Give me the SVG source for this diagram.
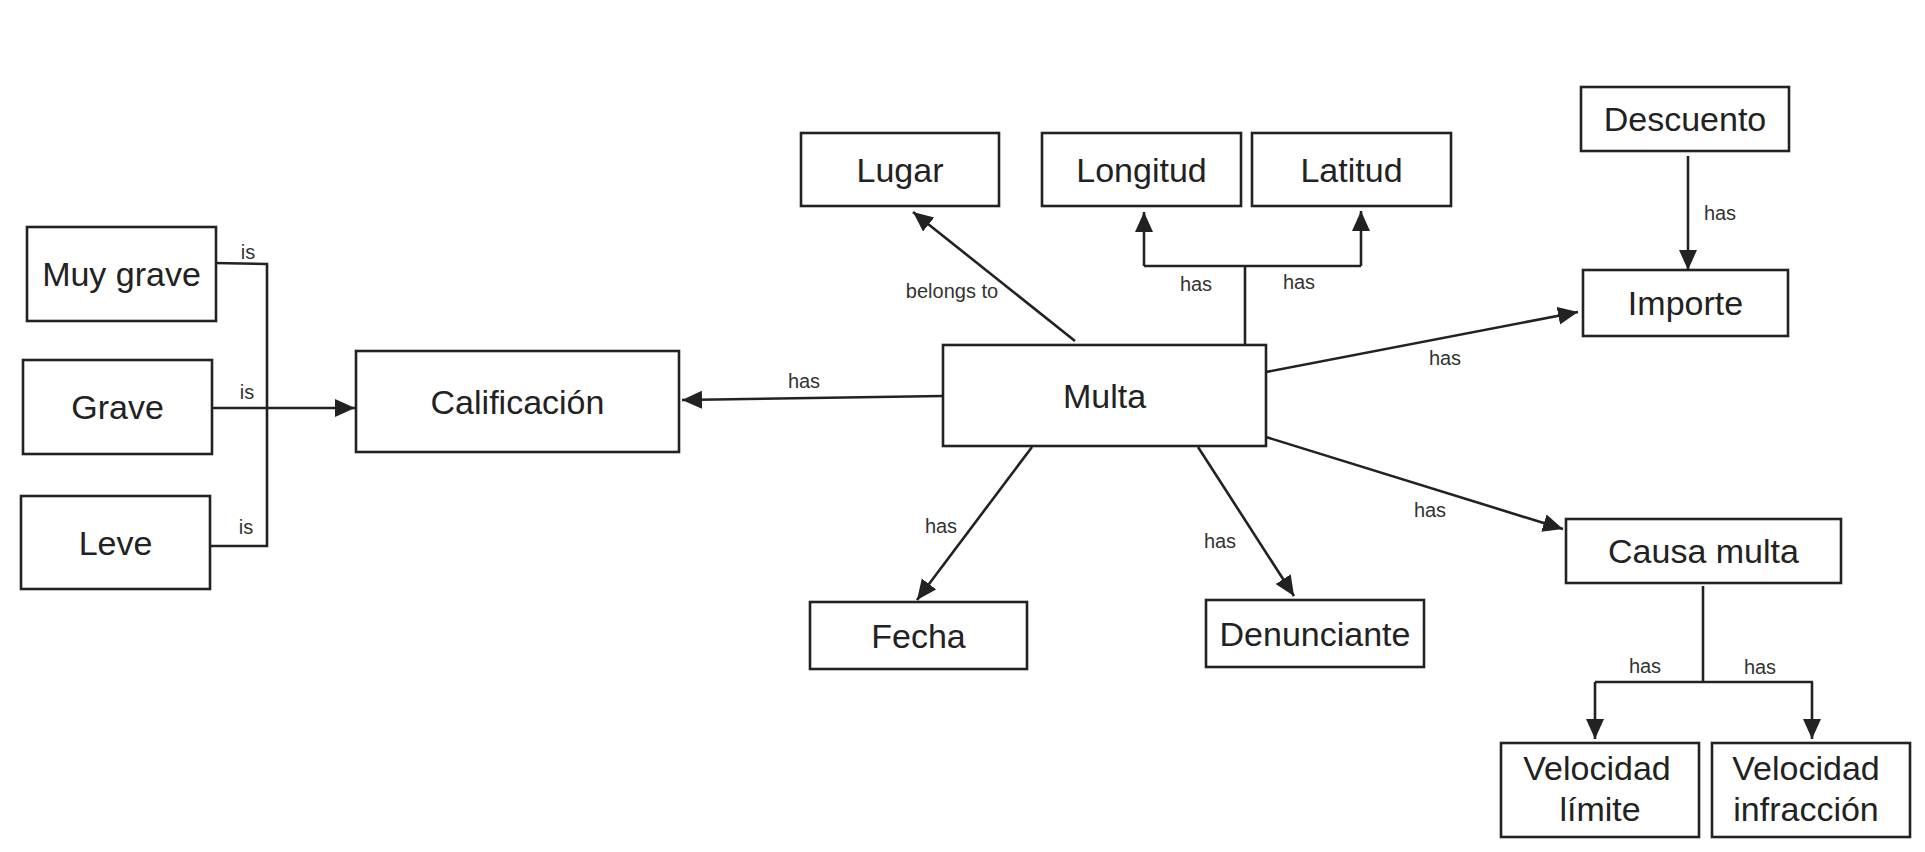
<svg xmlns="http://www.w3.org/2000/svg" width="1925" height="852" viewBox="0 0 1925 852">
<style>
.box{fill:#fff;stroke:#222;stroke-width:2.6}
.nt{font-family:"Liberation Sans",Arial,sans-serif;font-size:34px;fill:#222;text-anchor:middle;dominant-baseline:central}
.lb{font-family:"Liberation Sans",Arial,sans-serif;font-size:20px;fill:#333;text-anchor:middle;dominant-baseline:central}
.ln{fill:none;stroke:#222;stroke-width:2.6}
.ar{marker-end:url(#ah)}
</style>
<defs>
<marker id="ah" markerUnits="userSpaceOnUse" markerWidth="22" markerHeight="20" refX="20" refY="9" orient="auto">
<path d="M0,0 L20,9 L0,18 z" fill="#222"/>
</marker>
</defs>
<rect width="1925" height="852" fill="#fff"/>
<g id="connectors">
<polyline class="ln" points="214,263 267,264 267,546 210,546"/>
<line class="ln ar" x1="212" y1="408" x2="355" y2="408"/>
<text class="lb" x="248" y="252">is</text>
<text class="lb" x="247" y="392">is</text>
<text class="lb" x="246" y="527">is</text>
<line class="ln ar" x1="943" y1="396" x2="682" y2="400"/>
<text class="lb" x="804" y="381">has</text>
<line class="ln ar" x1="1075" y1="341" x2="913" y2="212"/>
<text class="lb" x="952" y="291">belongs to</text>
<line class="ln" x1="1245" y1="345" x2="1245" y2="266"/>
<line class="ln" x1="1144" y1="266" x2="1361" y2="266"/>
<line class="ln ar" x1="1144" y1="266" x2="1144" y2="212"/>
<line class="ln ar" x1="1361" y1="266" x2="1361" y2="211"/>
<text class="lb" x="1196" y="284">has</text>
<text class="lb" x="1299" y="282">has</text>
<line class="ln ar" x1="1266" y1="372" x2="1578" y2="312"/>
<text class="lb" x="1445" y="358">has</text>
<line class="ln ar" x1="1688" y1="156" x2="1688" y2="270"/>
<text class="lb" x="1720" y="213">has</text>
<line class="ln ar" x1="1266" y1="437" x2="1563" y2="529"/>
<text class="lb" x="1430" y="510">has</text>
<line class="ln ar" x1="1032" y1="447" x2="917" y2="600"/>
<text class="lb" x="941" y="526">has</text>
<line class="ln ar" x1="1198" y1="447" x2="1294" y2="596"/>
<text class="lb" x="1220" y="541">has</text>
<line class="ln" x1="1703" y1="586" x2="1703" y2="682"/>
<line class="ln" x1="1595" y1="682" x2="1813" y2="682"/>
<line class="ln ar" x1="1595" y1="682" x2="1595" y2="739"/>
<line class="ln ar" x1="1812" y1="682" x2="1812" y2="739"/>
<text class="lb" x="1645" y="666">has</text>
<text class="lb" x="1760" y="667">has</text>
</g>
<g id="muy-grave"><rect class="box" x="27" y="227" width="189" height="94"/><text class="nt" x="121.5" y="274">Muy grave</text></g>
<g id="grave"><rect class="box" x="23" y="360" width="189" height="94"/><text class="nt" x="117.5" y="407">Grave</text></g>
<g id="leve"><rect class="box" x="21" y="496" width="189" height="93"/><text class="nt" x="115.5" y="542.5">Leve</text></g>
<g id="calificacion"><rect class="box" x="356" y="351" width="323" height="101"/><text class="nt" x="517.5" y="401.5">Calificación</text></g>
<g id="lugar"><rect class="box" x="801" y="133" width="198" height="73"/><text class="nt" x="900" y="169.5">Lugar</text></g>
<g id="longitud"><rect class="box" x="1042" y="133" width="199" height="73"/><text class="nt" x="1141.5" y="169.5">Longitud</text></g>
<g id="latitud"><rect class="box" x="1252" y="133" width="199" height="73"/><text class="nt" x="1351.5" y="169.5">Latitud</text></g>
<g id="multa"><rect class="box" x="943" y="345" width="323" height="101"/><text class="nt" x="1104.5" y="395.5">Multa</text></g>
<g id="descuento"><rect class="box" x="1581" y="87" width="208" height="64"/><text class="nt" x="1685" y="119">Descuento</text></g>
<g id="importe"><rect class="box" x="1583" y="270" width="205" height="66"/><text class="nt" x="1685.5" y="303">Importe</text></g>
<g id="causa-multa"><rect class="box" x="1566" y="519" width="275" height="64"/><text class="nt" x="1703.5" y="551">Causa multa</text></g>
<g id="fecha"><rect class="box" x="810" y="602" width="217" height="67"/><text class="nt" x="918.5" y="635.5">Fecha</text></g>
<g id="denunciante"><rect class="box" x="1206" y="600" width="218" height="67"/><text class="nt" x="1315" y="633.5">Denunciante</text></g>
<g id="velocidad-limite"><rect class="box" x="1501" y="743" width="198" height="94"/><text class="nt" x="1597" y="768">Velocidad</text><text class="nt" x="1600" y="809">límite</text></g>
<g id="velocidad-infraccion"><rect class="box" x="1712" y="743" width="198" height="94"/><text class="nt" x="1806" y="768">Velocidad</text><text class="nt" x="1806" y="809">infracción</text></g>
</svg>
